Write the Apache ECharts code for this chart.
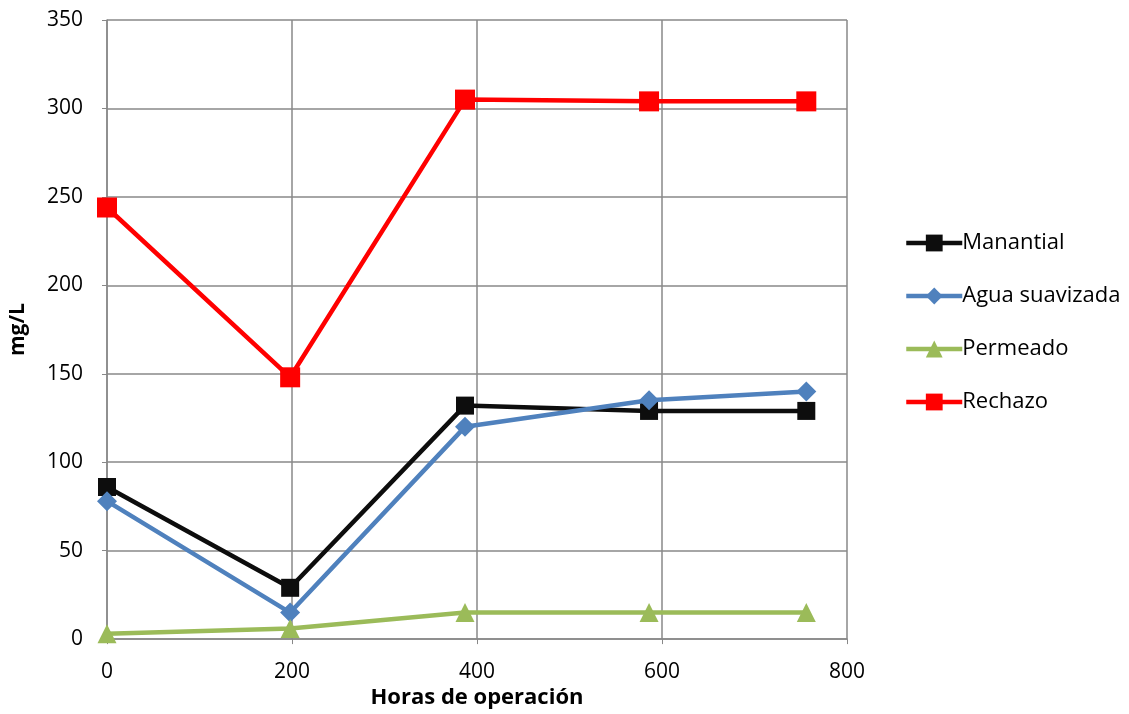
<!DOCTYPE html>
<html>
<head>
<meta charset="utf-8">
<script src="https://cdn.jsdelivr.net/npm/echarts@6/dist/echarts.min.js"></script>
<style>
  html, body { margin: 0; padding: 0; background: #fff; }
  #chart { width: 1129px; height: 714px; }
</style>
</head>
<body>
<div id="chart"></div>
<script>
// Operating hours at each sampling point
const hours = [0, 198, 387, 586, 756];

// Concentrations (mg/L) per stream
const manantial = [86, 29, 132, 129, 129];
const aguaSuavizada = [78, 15, 120, 135, 140];
const permeado = [3, 6, 15, 15, 15];
const rechazo = [244, 148, 305, 304, 304];

const seriesNames = ['Manantial', 'Agua suavizada', 'Permeado', 'Rechazo'];
const seriesData = [manantial, aguaSuavizada, permeado, rechazo];
const seriesColors = ['#0d0d0d', '#4f81bd', '#9bbb59', '#ff0000'];
const seriesSymbols = ['rect', 'diamond', 'triangle', 'rect'];
const symbolSizes = [18, 20, 19, 20];

const FONT = 'Open Sans';

const chart = echarts.init(document.getElementById('chart'));

chart.setOption({
  animation: false,
  backgroundColor: '#ffffff',
  grid: { left: 107, right: 282, top: 20, bottom: 74, containLabel: false },
  legend: {
    orient: 'vertical',
    left: 899,
    top: 227,
    itemWidth: 56,
    itemHeight: 21,
    itemGap: 31,
    lineStyle: { width: 4.5 },
    textStyle: { fontFamily: FONT, fontSize: 22, color: '#000', padding: [0, 0, 0, -5] },
    data: seriesNames
  },
  xAxis: {
    type: 'value',
    min: 0,
    max: 800,
    interval: 200,
    name: 'Horas de operación',
    nameLocation: 'middle',
    nameGap: 42,
    nameTextStyle: { fontFamily: FONT, fontSize: 22, fontWeight: 'bold', color: '#000' },
    axisLine: { show: true, lineStyle: { color: '#888', width: 1.5 } },
    axisTick: { show: true, length: 5, lineStyle: { color: '#888' } },
    axisLabel: { fontFamily: FONT, fontSize: 21, color: '#000', margin: 22 },
    splitLine: { show: true, lineStyle: { color: '#888', width: 1.5 } }
  },
  yAxis: {
    type: 'value',
    min: 0,
    max: 350,
    interval: 50,
    name: 'mg/L',
    nameLocation: 'middle',
    nameGap: 78,
    nameRotate: 90,
    nameTextStyle: { fontFamily: FONT, fontSize: 21, fontWeight: 'bold', color: '#000' },
    axisLine: { show: true, lineStyle: { color: '#888', width: 1.5 } },
    axisTick: { show: true, length: 5, lineStyle: { color: '#888' } },
    axisLabel: { fontFamily: FONT, fontSize: 21, color: '#000', margin: 24 },
    splitLine: { show: true, lineStyle: { color: '#888', width: 1.5 } }
  },
  series: seriesNames.map((name, i) => ({
    name: name,
    type: 'line',
    data: hours.map((h, j) => [h, seriesData[i][j]]),
    symbol: seriesSymbols[i],
    symbolSize: symbolSizes[i],
    showAllSymbol: true,
    lineStyle: { color: seriesColors[i], width: 4.5 },
    itemStyle: { color: seriesColors[i], borderWidth: 0 },
    emphasis: { disabled: true },
    z: 2 + i
  }))
});
</script>
</body>
</html>
